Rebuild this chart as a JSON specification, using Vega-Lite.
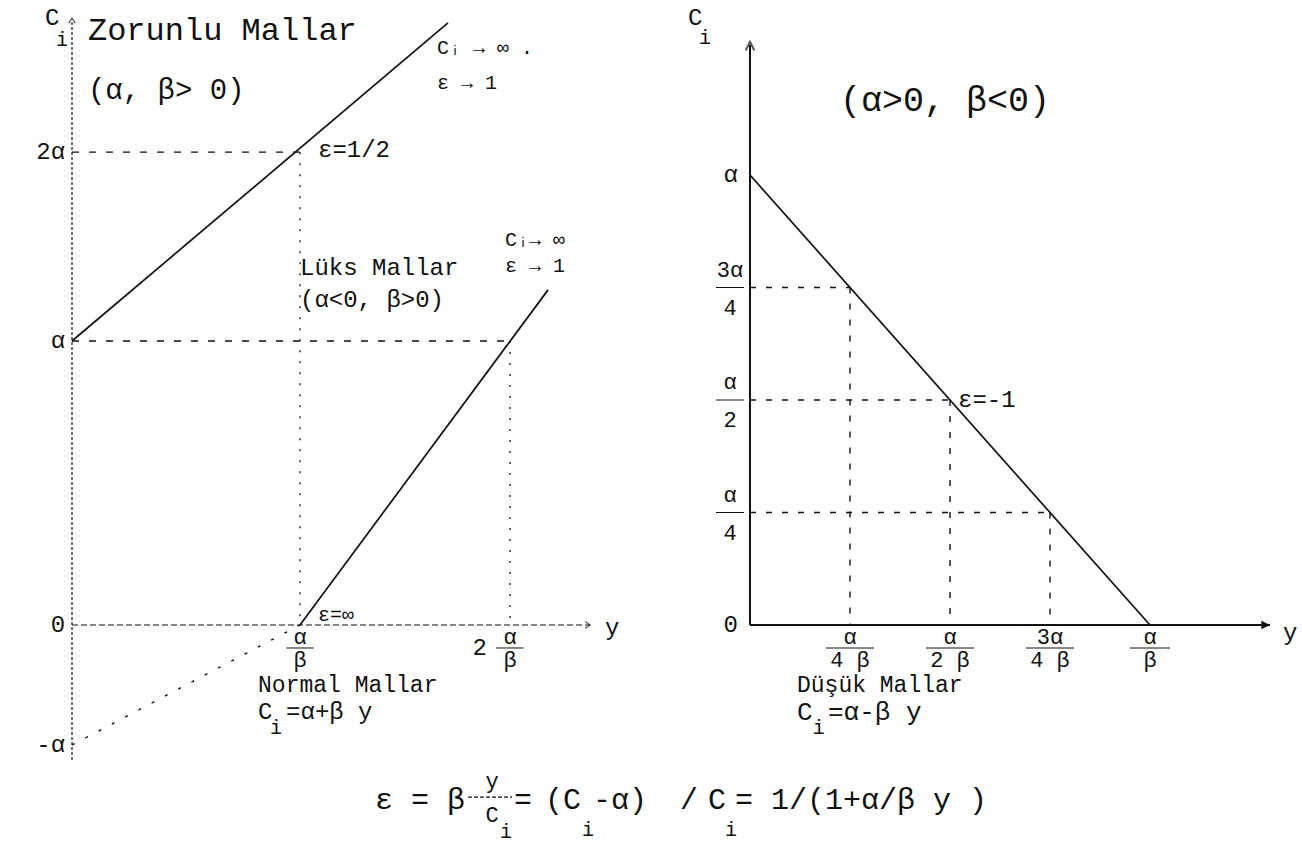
{
  "$schema": "https://vega.github.io/schema/vega-lite/v6.json",
  "padding": 0,
  "spacing": 0,
  "bounds": "flush",
  "background": "white",
  "config": {
    "view": {"stroke": null},
    "text": {"font": "Liberation Mono", "color": "#111", "baseline": "middle"},
    "rule": {"color": "#111"}
  },
  "hconcat": [
    {
      "width": 650,
      "height": 856,
      "encoding": {
        "x": {"field": "x", "type": "quantitative", "scale": {"domain": [-0.3158, 2.5351], "nice": false, "zero": false}, "axis": null},
        "y": {"field": "y", "type": "quantitative", "scale": {"domain": [-0.8134, 2.2007], "nice": false, "zero": false}, "axis": null}
      },
      "layer": [
        {
          "description": "C_i axis (dotted, runs below the origin down to -alpha)",
          "data": {"values": [{"x": 0, "y": -0.475, "x2": 0, "y2": 2.123}]},
          "mark": {"type": "rule", "strokeWidth": 1.2, "strokeDash": [3, 2]},
          "encoding": {"x2": {"field": "x2"}, "y2": {"field": "y2"}}
        },
        {
          "description": "income axis",
          "data": {"values": [{"x": 0, "y": 0, "x2": 2.272, "y2": 0}]},
          "mark": {"type": "rule", "strokeWidth": 1.2, "strokeDash": [6, 3]},
          "encoding": {"x2": {"field": "x2"}, "y2": {"field": "y2"}}
        },
        {
          "description": "Engel lines: necessities (upper) and luxuries (lower)",
          "data": {"values": [
            {"good": "Zorunlu", "x": 0, "y": 1, "x2": 1.649, "y2": 2.12},
            {"good": "Lüks", "x": 1, "y": 0, "x2": 2.088, "y2": 1.18}
          ]},
          "mark": {"type": "rule", "strokeWidth": 1.7},
          "encoding": {"x2": {"field": "x2"}, "y2": {"field": "y2"}}
        },
        {
          "description": "luxury line continued below the axis to -alpha",
          "data": {"values": [{"x": 0, "y": -0.4225, "x2": 1, "y2": 0}]},
          "mark": {"type": "rule", "strokeWidth": 1.4, "strokeDash": [3, 12]},
          "encoding": {"x2": {"field": "x2"}, "y2": {"field": "y2"}}
        },
        {
          "description": "horizontal guides at 2alpha and alpha",
          "data": {"values": [
            {"x": 0, "y": 1.665, "x2": 1, "y2": 1.665},
            {"x": 0, "y": 1, "x2": 1.921, "y2": 1}
          ]},
          "mark": {"type": "rule", "strokeWidth": 1.3, "strokeDash": [7, 10]},
          "encoding": {"x2": {"field": "x2"}, "y2": {"field": "y2"}}
        },
        {
          "description": "vertical guides at alpha/beta and 2alpha/beta",
          "data": {"values": [
            {"x": 1, "y": 1.665, "x2": 1, "y2": 0},
            {"x": 1.921, "y": 1, "x2": 1.921, "y2": 0}
          ]},
          "mark": {"type": "rule", "strokeWidth": 1.3, "strokeDash": [2, 9]},
          "encoding": {"x2": {"field": "x2"}, "y2": {"field": "y2"}}
        },
        {
          "description": "fraction bars",
          "data": {"values": [
            {"x": 0.94, "y": -0.081, "x2": 1.06, "y2": -0.081},
            {"x": 1.86, "y": -0.081, "x2": 1.98, "y2": -0.081}
          ]},
          "mark": {"type": "rule", "strokeWidth": 1},
          "encoding": {"x2": {"field": "x2"}, "y2": {"field": "y2"}}
        },
        {
          "description": "typed bar of the y/C_i fraction in the elasticity formula",
          "data": {"values": [{"x": 1.737, "y": -0.606, "x2": 1.93, "y2": -0.606}]},
          "mark": {"type": "rule", "strokeWidth": 1.2, "strokeDash": [4, 2]},
          "encoding": {"x2": {"field": "x2"}, "y2": {"field": "y2"}}
        },
        {
          "description": "arrow head on the C_i axis",
          "data": {"values": [{"x": 0, "y": 2.137}]},
          "mark": {"type": "point", "shape": "M-0.6,0.9L0,0L0.6,0.9", "filled": false, "size": 120, "strokeWidth": 1.3, "color": "#111"}
        },
        {
          "description": "arrow head on the income axis",
          "data": {"values": [{"x": 2.272, "y": 0}]},
          "mark": {"type": "point", "shape": "M-0.9,-0.6L0,0L-0.9,0.6", "filled": false, "size": 120, "strokeWidth": 1.3, "color": "#111"}
        },
        {
          "description": "heading of the necessities line",
          "data": {"values": [{"x": 0.07, "y": 2.095, "label": "Zorunlu Mallar"}]},
          "mark": {"type": "text", "align": "left", "fontSize": 32},
          "encoding": {"text": {"field": "label"}}
        },
        {
          "description": "sign conditions of the necessities line",
          "data": {"values": [{"x": 0.07, "y": 1.884, "label": "(α, β> 0)"}]},
          "mark": {"type": "text", "align": "left", "fontSize": 29},
          "encoding": {"text": {"field": "label"}}
        },
        {
          "description": "main labels, left aligned",
          "data": {"values": [
            {"x": 1.079, "y": 1.673, "label": "ε=1/2"},
            {"x": 1.0, "y": 1.257, "label": "Lüks Mallar"},
            {"x": 1.0, "y": 1.144, "label": "(α<0, β>0)"},
            {"x": 2.338, "y": -0.011, "label": "y"},
            {"x": 1.757, "y": -0.081, "label": "2"},
            {"x": 0.816, "y": -0.306, "label": "C"},
            {"x": 0.939, "y": -0.306, "label": "=α+β y"},
            {"x": -0.118, "y": 2.137, "label": "C"}
          ]},
          "mark": {"type": "text", "align": "left", "fontSize": 24},
          "encoding": {"text": {"field": "label"}}
        },
        {
          "description": "caption of the left diagram",
          "data": {"values": [{"x": 0.816, "y": -0.211, "label": "Normal Mallar"}]},
          "mark": {"type": "text", "align": "left", "fontSize": 23},
          "encoding": {"text": {"field": "label"}}
        },
        {
          "description": "elasticity formula, typed in pieces",
          "data": {"values": [
            {"x": 1.329, "y": -0.616, "label": "ε = β"},
            {"x": 1.939, "y": -0.616, "label": "="},
            {"x": 2.075, "y": -0.616, "label": "(C"},
            {"x": 2.285, "y": -0.616, "label": "-α)"},
            {"x": 2.667, "y": -0.616, "label": "/"},
            {"x": 2.789, "y": -0.616, "label": "C"},
            {"x": 2.908, "y": -0.616, "label": "= 1/(1+α/β y )"}
          ]},
          "mark": {"type": "text", "align": "left", "fontSize": 30},
          "encoding": {"text": {"field": "label"}}
        },
        {
          "description": "labels set to the left of the C_i axis",
          "data": {"values": [
            {"x": -0.03, "y": 1.665, "label": "2α"},
            {"x": -0.03, "y": 1.0, "label": "α"},
            {"x": -0.03, "y": 0.0, "label": "0"},
            {"x": -0.03, "y": -0.4225, "label": "-α"}
          ]},
          "mark": {"type": "text", "align": "right", "fontSize": 24},
          "encoding": {"text": {"field": "label"}}
        },
        {
          "description": "centred fraction parts",
          "data": {"values": [
            {"x": 1.0, "y": -0.042, "label": "α"},
            {"x": 1.0, "y": -0.123, "label": "β"},
            {"x": 1.921, "y": -0.042, "label": "α"},
            {"x": 1.921, "y": -0.123, "label": "β"},
            {"x": 1.842, "y": -0.549, "label": "y"},
            {"x": 1.842, "y": -0.669, "label": "C"}
          ]},
          "mark": {"type": "text", "align": "center", "fontSize": 22},
          "encoding": {"text": {"field": "label"}}
        },
        {
          "description": "subscript i",
          "data": {"values": [
            {"x": -0.044, "y": 2.06, "label": "i"},
            {"x": 0.895, "y": -0.363, "label": "i"},
            {"x": 1.904, "y": -0.729, "label": "i"},
            {"x": 2.263, "y": -0.722, "label": "i"},
            {"x": 2.89, "y": -0.722, "label": "i"}
          ]},
          "mark": {"type": "text", "align": "center", "fontSize": 20},
          "encoding": {"text": {"field": "label"}}
        },
        {
          "description": "small limit notes",
          "data": {"values": [
            {"x": 1.601, "y": 2.032, "label": "Cᵢ → ∞  ."},
            {"x": 1.601, "y": 1.908, "label": "ε → 1"},
            {"x": 1.899, "y": 1.356, "label": "Cᵢ→ ∞"},
            {"x": 1.899, "y": 1.264, "label": "ε → 1"},
            {"x": 1.079, "y": 0.035, "label": "ε=∞"}
          ]},
          "mark": {"type": "text", "align": "left", "fontSize": 20},
          "encoding": {"text": {"field": "label"}}
        }
      ]
    },
    {
      "width": 652,
      "height": 856,
      "encoding": {
        "x": {"field": "x", "type": "quantitative", "scale": {"domain": [-0.25, 1.38], "nice": false, "zero": false}, "axis": null},
        "y": {"field": "y", "type": "quantitative", "scale": {"domain": [-0.5133, 1.3889], "nice": false, "zero": false}, "axis": null}
      },
      "layer": [
        {
          "description": "axes",
          "data": {"values": [
            {"x": 0, "y": 0, "x2": 0, "y2": 1.289},
            {"x": 0, "y": 0, "x2": 1.3, "y2": 0}
          ]},
          "mark": {"type": "rule", "strokeWidth": 2},
          "encoding": {"x2": {"field": "x2"}, "y2": {"field": "y2"}}
        },
        {
          "description": "inferior good line",
          "data": {"values": [{"x": 0, "y": 1, "x2": 1, "y2": 0}]},
          "mark": {"type": "rule", "strokeWidth": 1.7},
          "encoding": {"x2": {"field": "x2"}, "y2": {"field": "y2"}}
        },
        {
          "description": "dashed guides at quarter points",
          "data": {"values": [
            {"x": 0, "y": 0.75, "x2": 0.25, "y2": 0.75},
            {"x": 0.25, "y": 0.75, "x2": 0.25, "y2": 0},
            {"x": 0, "y": 0.5, "x2": 0.5, "y2": 0.5},
            {"x": 0.5, "y": 0.5, "x2": 0.5, "y2": 0},
            {"x": 0, "y": 0.25, "x2": 0.75, "y2": 0.25},
            {"x": 0.75, "y": 0.25, "x2": 0.75, "y2": 0}
          ]},
          "mark": {"type": "rule", "strokeWidth": 1.4, "strokeDash": [6, 10]},
          "encoding": {"x2": {"field": "x2"}, "y2": {"field": "y2"}}
        },
        {
          "description": "fraction bars",
          "data": {"values": [
            {"x": -0.085, "y": 0.75, "x2": -0.015, "y2": 0.75},
            {"x": -0.085, "y": 0.5, "x2": -0.015, "y2": 0.5},
            {"x": -0.085, "y": 0.25, "x2": -0.015, "y2": 0.25},
            {"x": 0.19, "y": -0.0511, "x2": 0.31, "y2": -0.0511},
            {"x": 0.44, "y": -0.0511, "x2": 0.56, "y2": -0.0511},
            {"x": 0.69, "y": -0.0511, "x2": 0.81, "y2": -0.0511},
            {"x": 0.95, "y": -0.0511, "x2": 1.05, "y2": -0.0511}
          ]},
          "mark": {"type": "rule", "strokeWidth": 1},
          "encoding": {"x2": {"field": "x2"}, "y2": {"field": "y2"}}
        },
        {
          "description": "arrow head on the C_i axis",
          "data": {"values": [{"x": 0, "y": 1.296}]},
          "mark": {"type": "point", "shape": "M-0.5,1L0,0L0.5,1", "filled": false, "size": 300, "strokeWidth": 2, "color": "#111"}
        },
        {
          "description": "arrow head on the income axis",
          "data": {"values": [{"x": 1.3, "y": 0}]},
          "mark": {"type": "point", "shape": "M-1,-0.5L0,0L-1,0.5Z", "filled": true, "size": 300, "color": "#111", "opacity": 1}
        },
        {
          "description": "sign conditions of the inferior good",
          "data": {"values": [{"x": 0.225, "y": 1.167, "label": "(α>0, β<0)"}]},
          "mark": {"type": "text", "align": "left", "fontSize": 35},
          "encoding": {"text": {"field": "label"}}
        },
        {
          "description": "left-aligned labels",
          "data": {"values": [
            {"x": -0.155, "y": 1.349, "label": "C"},
            {"x": 0.52, "y": 0.5, "label": "ε=-1"},
            {"x": 1.3325, "y": -0.018, "label": "y"}
          ]},
          "mark": {"type": "text", "align": "left", "fontSize": 24},
          "encoding": {"text": {"field": "label"}}
        },
        {
          "description": "caption of the right diagram",
          "data": {"values": [{"x": 0.1175, "y": -0.1333, "label": "Düşük Mallar"}]},
          "mark": {"type": "text", "align": "left", "fontSize": 23},
          "encoding": {"text": {"field": "label"}}
        },
        {
          "description": "demand equation",
          "data": {"values": [
            {"x": 0.1175, "y": -0.1933, "label": "C"},
            {"x": 0.195, "y": -0.1933, "label": "=α-β y"}
          ]},
          "mark": {"type": "text", "align": "left", "fontSize": 26},
          "encoding": {"text": {"field": "label"}}
        },
        {
          "description": "labels left of the C_i axis",
          "data": {"values": [
            {"x": -0.03, "y": 1.0, "label": "α"},
            {"x": -0.03, "y": 0.0, "label": "0"}
          ]},
          "mark": {"type": "text", "align": "right", "fontSize": 24},
          "encoding": {"text": {"field": "label"}}
        },
        {
          "description": "fraction parts",
          "data": {"values": [
            {"x": -0.05, "y": 0.79, "label": "3α"},
            {"x": -0.05, "y": 0.705, "label": "4"},
            {"x": -0.05, "y": 0.54, "label": "α"},
            {"x": -0.05, "y": 0.455, "label": "2"},
            {"x": -0.05, "y": 0.29, "label": "α"},
            {"x": -0.05, "y": 0.205, "label": "4"},
            {"x": 0.25, "y": -0.0267, "label": "α"},
            {"x": 0.25, "y": -0.0778, "label": "4 β"},
            {"x": 0.5, "y": -0.0267, "label": "α"},
            {"x": 0.5, "y": -0.0778, "label": "2 β"},
            {"x": 0.75, "y": -0.0267, "label": "3α"},
            {"x": 0.75, "y": -0.0778, "label": "4 β"},
            {"x": 1.0, "y": -0.0267, "label": "α"},
            {"x": 1.0, "y": -0.0778, "label": "β"}
          ]},
          "mark": {"type": "text", "align": "center", "fontSize": 22},
          "encoding": {"text": {"field": "label"}}
        },
        {
          "description": "subscript i",
          "data": {"values": [
            {"x": -0.1125, "y": 1.304, "label": "i"},
            {"x": 0.172, "y": -0.229, "label": "i"}
          ]},
          "mark": {"type": "text", "align": "center", "fontSize": 20},
          "encoding": {"text": {"field": "label"}}
        }
      ]
    }
  ]
}
